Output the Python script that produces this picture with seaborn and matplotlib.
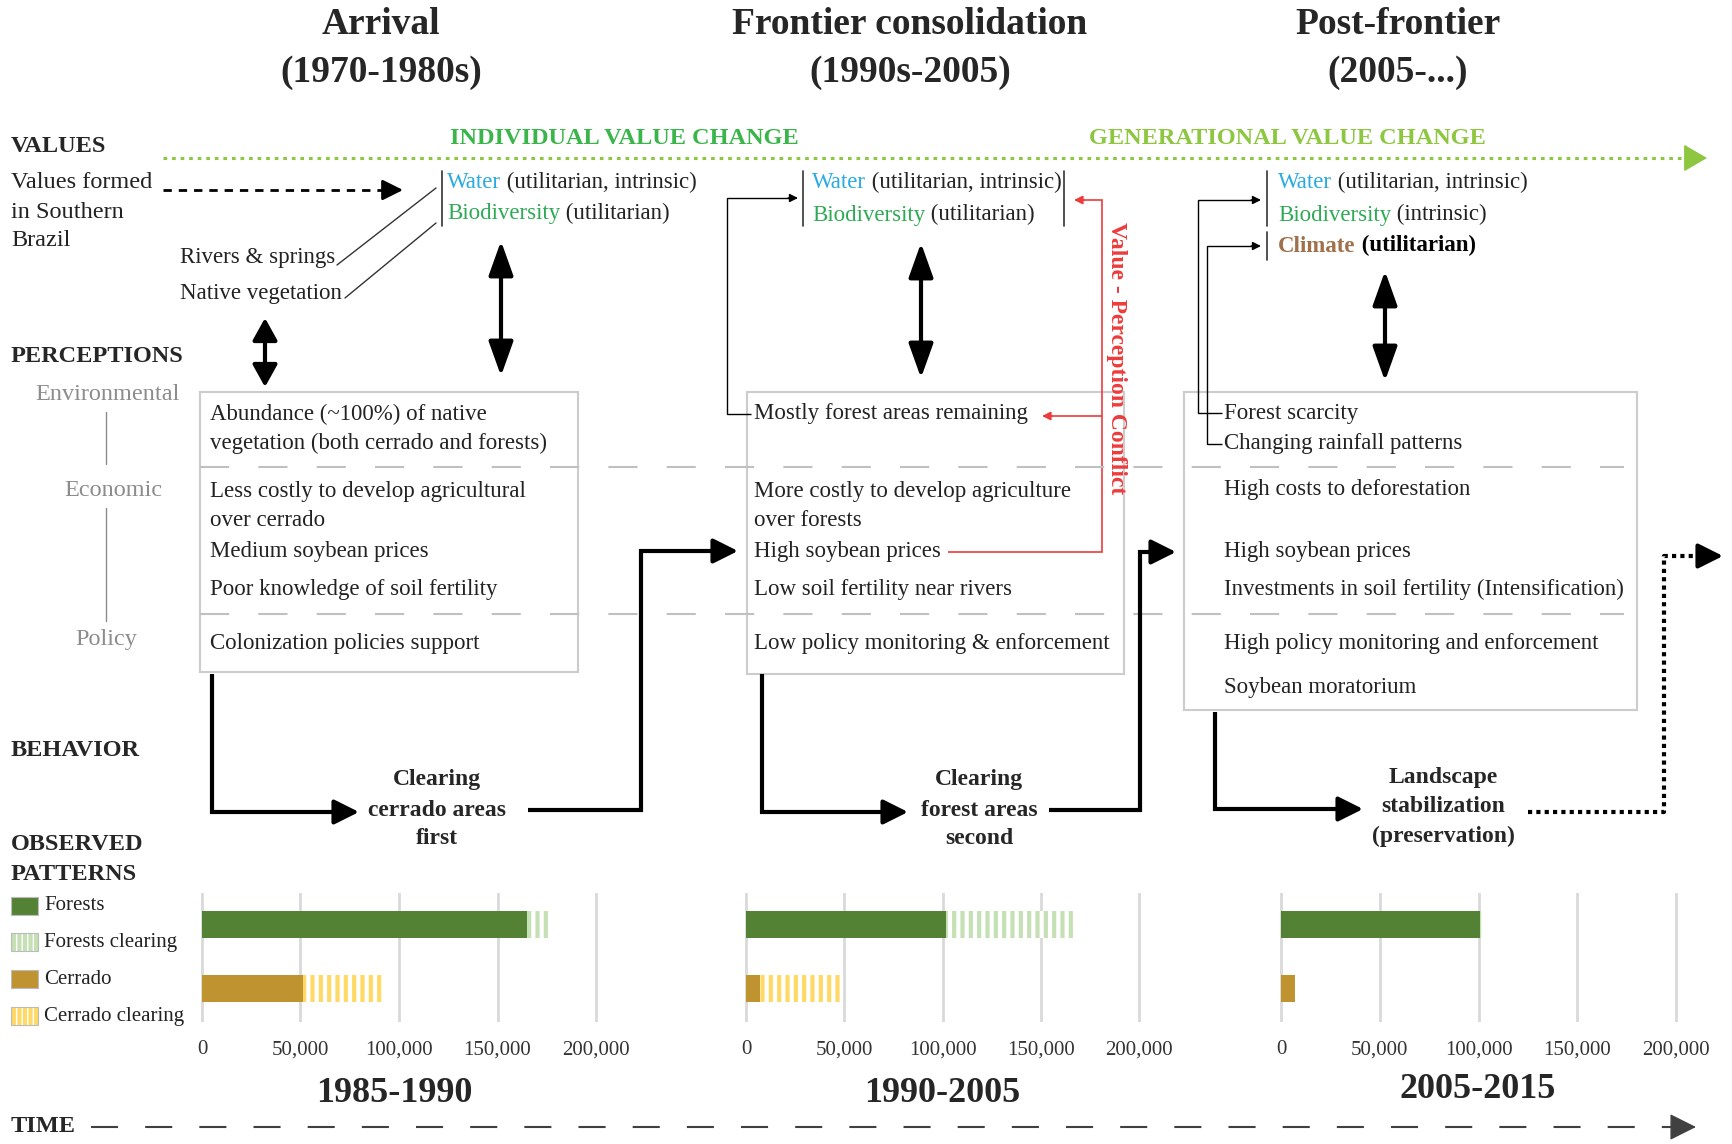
import matplotlib
matplotlib.use("Agg")
import matplotlib.pyplot as plt
import seaborn as sns
import pandas as pd
from matplotlib.patches import Rectangle

W, H = 1732, 1144

# land cover (ha)
periods = ["1985-1990", "1990-2005", "2005-2015"]
covers = ["Forests", "Cerrado"]
forest_left = [165000, 102000, 100700]
forest_cleared = [11000, 65300, 2400]
cerrado_left = [51500, 7100, 7100]
cerrado_cleared = [40500, 42400, 0]
x_ticks = [0, 50000, 100000, 150000, 200000]

phase_names = ["Arrival", "Frontier consolidation", "Post-frontier"]
phase_years = ["(1970-1980s)", "(1990s-2005)", "(2005-...)"]
behaviors = [["Clearing", "cerrado areas", "first"],
             ["Clearing", "forest areas", "second"],
             ["Landscape", "stabilization", "(preservation)"]]
box1_lines = ["Abundance (~100%) of native", "vegetation (both cerrado and forests)",
              "Less costly to develop agricultural", "over cerrado", "Medium soybean prices",
              "Poor knowledge of soil fertility", "Colonization policies support"]
box2_lines = ["Mostly forest areas remaining", "More costly to develop agriculture", "over forests",
              "High soybean prices", "Low soil fertility near rivers", "Low policy monitoring & enforcement"]
box3_lines = ["Forest scarcity", "Changing rainfall patterns", "High costs to deforestation",
              "High soybean prices", "Investments in soil fertility (Intensification)",
              "High policy monitoring and enforcement", "Soybean moratorium"]
legend_labels = ["Forests", "Forests clearing", "Cerrado", "Cerrado clearing"]

FOREST = "#548235"
FOREST_CLR = "#c5e0b4"
CERRADO = "#bf9430"
CERRADO_CLR = "#ffd966"
WATER = "#29abe2"
BIO = "#2eaa55"
CLIMATE = "#a0704a"
LIME = "#8dc63f"
RED = "#ee3b3b"
GREY = "#8c8c8c"
BODY = 16.5

sns.set_theme(style="white")
plt.rcParams["font.family"] = ["Liberation Serif", "DejaVu Serif"]
plt.rcParams["hatch.linewidth"] = 3.0

fig = plt.figure(figsize=(W / 100, H / 100), dpi=100)
ax = fig.add_axes([0, 0, 1, 1])
ax.set_xlim(0, W)
ax.set_ylim(H, 0)
ax.axis("off")


def txt(x, y, s, size=BODY, **kw):
    kw.setdefault("va", "center")
    return ax.text(x, y, s, fontsize=size, **kw)


def parts(x, y, pieces, size=BODY):
    s, c, w = pieces[0]
    t = txt(x, y, s, size, color=c, fontweight=w)
    for s, c, w in pieces[1:]:
        t = ax.annotate(s, xy=(1, 0), xycoords=t, va="bottom", ha="left",
                        color=c, fontsize=size, fontweight=w)


def elbow(pts, color="black", lw=3, ls="-", ms=30, head="-|>,head_length=0.5,head_width=0.25", back=10):
    xs = [p[0] for p in pts]
    ys = [p[1] for p in pts]
    (x1, y1), (x2, y2) = pts[-2], pts[-1]
    dx = (x2 > x1) - (x2 < x1)
    dy = (y2 > y1) - (y2 < y1)
    xs[-1] = x2 - dx * back
    ys[-1] = y2 - dy * back
    ax.plot(xs, ys, color=color, lw=lw, ls=ls, solid_capstyle="butt", solid_joinstyle="miter")
    ax.annotate("", xy=(x2, y2), xytext=(x2 - dx * (back + 6), y2 - dy * (back + 6)),
                arrowprops=dict(arrowstyle=head, mutation_scale=ms, lw=lw, color=color,
                                shrinkA=0, shrinkB=0))


def double_arrow(x, y0, y1, hl=0.7):
    ax.annotate("", xy=(x, y0), xytext=(x, y1),
                arrowprops=dict(arrowstyle=f"<|-|>,head_length={hl},head_width=0.25",
                                mutation_scale=30, lw=3, color="black", shrinkA=0, shrinkB=0))


# phase titles
for cx, name, yrs in zip([381, 910, 1398], phase_names, phase_years):
    txt(cx, 25, name, 27, ha="center", fontweight="bold")
    txt(cx, 72, yrs, 27, ha="center", fontweight="bold")

# row labels
for y, s in [(147, "VALUES"), (357, "PERCEPTIONS"), (750, "BEHAVIOR"),
             (845, "OBSERVED"), (874, "PATTERNS"), (1127, "TIME")]:
    txt(11, y, s, 17.5, fontweight="bold")

# value change arrow
ax.plot([163, 1695], [158, 158], color=LIME, lw=2.2, ls=(0, (1.2, 1.6)))
ax.annotate("", xy=(1707, 158), xytext=(1690, 158),
            arrowprops=dict(arrowstyle="-|>,head_length=0.6,head_width=0.35", mutation_scale=25,
                            color=LIME, lw=1, shrinkA=0, shrinkB=0))
txt(624, 139, "INDIVIDUAL VALUE CHANGE", 17.5, ha="center", color="#39b54a", fontweight="bold")
txt(1287, 139, "GENERATIONAL VALUE CHANGE", 17.5, ha="center", color=LIME, fontweight="bold")

# values block 1
for y, s in zip([183, 212, 241], ["Values formed", "in Southern", "Brazil"]):
    txt(11, y, s, 17.5, color="#222222")
elbow([(163, 190), (403, 190)], lw=2, ls=(0, (3, 2.5)), ms=25, back=12)
ax.plot([442, 442], [171, 226], color="#333333", lw=1.2)
parts(447, 183, [("Water", WATER, "normal"), (" (utilitarian, intrinsic)", "#222222", "normal")])
parts(447, 214, [("Biodiversity", BIO, "normal"), (" (utilitarian)", "#222222", "normal")])
txt(335, 257, "Rivers & springs", ha="right", color="#222222")
txt(342, 293, "Native vegetation", ha="right", color="#222222")
ax.plot([337, 436], [265, 188], color="#333333", lw=1)
ax.plot([345, 436], [298, 223], color="#333333", lw=1)
double_arrow(265, 318, 387, hl=0.45)
double_arrow(501, 241, 376)

# values block 2
ax.plot([803, 803], [171, 226], color="#333333", lw=1.2)
ax.plot([1064, 1064], [171, 226], color="#333333", lw=1.2)
parts(812, 183, [("Water", WATER, "normal"), (" (utilitarian, intrinsic)", "#222222", "normal")])
parts(812, 215, [("Biodiversity", BIO, "normal"), (" (utilitarian)", "#222222", "normal")])
elbow([(751, 414), (727, 414), (727, 198), (798, 198)], lw=1, ms=10, back=4)
double_arrow(921, 243, 378)

# value-perception conflict
elbow([(948, 552), (1102, 552), (1102, 200), (1074, 200)], color=RED, lw=1.2, ms=10, back=4)
elbow([(1102, 416), (1042, 416)], color=RED, lw=1.2, ms=10, back=4)
txt(1116, 358, "Value - Perception Conflict", 17, ha="center", color=RED,
    fontweight="bold", rotation=270)

# values block 3
ax.plot([1267, 1267], [171, 226], color="#333333", lw=1.2)
ax.plot([1267, 1267], [232, 260], color="#333333", lw=1.2)
parts(1278, 183, [("Water", WATER, "normal"), (" (utilitarian, intrinsic)", "#222222", "normal")])
parts(1278, 215, [("Biodiversity", BIO, "normal"), (" (intrinsic)", "#222222", "normal")])
parts(1278, 246, [("Climate", CLIMATE, "bold"), (" (utilitarian)", "black", "bold")])
elbow([(1222, 413), (1198, 413), (1198, 200), (1261, 200)], lw=1, ms=10, back=4)
elbow([(1222, 444), (1207, 444), (1207, 246), (1261, 246)], lw=1, ms=10, back=4)
double_arrow(1385, 271, 381)

# perception categories
txt(107, 394, "Environmental", 17.5, ha="center", color=GREY)
txt(113, 490, "Economic", 17.5, ha="center", color=GREY)
txt(106, 640, "Policy", 17.5, ha="center", color=GREY)
ax.plot([106, 106], [412, 464], color=GREY, lw=1)
ax.plot([106, 106], [508, 621], color=GREY, lw=1)

for x0, y0, w, h in [(200, 392, 378, 280), (747, 392, 377, 282), (1184, 392, 453, 318)]:
    ax.add_patch(Rectangle((x0, y0), w, h, fill=False, ec="#cccccc", lw=1.5))
for y in [467, 614]:
    ax.plot([200, 1624], [y, y], color="#c0c0c0", lw=1.5, ls=(0, (14, 14)))

for y, s in zip([414, 443, 492, 520, 552, 590, 644], box1_lines):
    txt(210, y, s, color="#222222")
for y, s in zip([414, 492, 520, 552, 590, 644], box2_lines):
    txt(754, y, s, color="#222222")
for y, s in zip([413, 444, 490, 551, 589, 643, 687], box3_lines):
    txt(1224, y, s, color="#222222")

# behaviour paths
elbow([(212, 674), (212, 812), (359, 812)])
elbow([(528, 810), (641, 810), (641, 551), (738, 551)])
elbow([(762, 674), (762, 812), (908, 812)])
elbow([(1049, 810), (1140, 810), (1140, 552), (1176, 552)])
elbow([(1215, 712), (1215, 809), (1363, 809)])
elbow([(1528, 812), (1664, 812), (1664, 556), (1723, 556)], ls=(0, (1, 1)))
for cx, ys, lines in zip([437, 979, 1443], [[780, 810, 838], [780, 810, 838], [778, 806, 836]], behaviors):
    for y, s in zip(ys, lines):
        txt(cx, y, s, 17, ha="center", fontweight="bold")

# legend swatches
swatches = [(FOREST, None), (FOREST_CLR, "||"), (CERRADO, None), (CERRADO_CLR, "||")]
for (col, hatch), lab, y in zip(swatches, legend_labels, [906, 942, 979, 1016]):
    if hatch:
        ax.add_patch(Rectangle((11, y - 9), 27, 18, fc="white", ec=col, hatch="|||", lw=0))
        ax.add_patch(Rectangle((11, y - 9), 27, 18, fill=False, ec="#bbbbbb", lw=0.8))
    else:
        ax.add_patch(Rectangle((11, y - 9), 27, 18, fc=col, ec="#bbbbbb", lw=0.8))
    txt(44, y, lab, 15, color="#222222")

# bar panels
panels = [(199, 599), (743, 1142), (1278, 1679)]
for i, (left, right) in enumerate(panels):
    axb = fig.add_axes([left / W, 1 - 1022 / H, (right - left) / W, (1022 - 893) / H])
    df = pd.DataFrame({"cover": covers,
                       "left": [forest_left[i], cerrado_left[i]],
                       "cleared": [forest_cleared[i], cerrado_cleared[i]]})
    df["total"] = df["left"] + df["cleared"]
    sns.barplot(data=df, x="total", y="cover", hue="cover", palette=["white", "white"],
                width=0.43, orient="h", legend=False, saturation=1, ax=axb)
    for p, col in zip(axb.patches, [FOREST_CLR, CERRADO_CLR]):
        p.set_hatch("||")
        p.set_edgecolor(col)
        p.set_linewidth(0)
    n = len(axb.patches)
    sns.barplot(data=df, x="left", y="cover", hue="cover", palette=[FOREST, CERRADO],
                width=0.43, orient="h", legend=False, saturation=1, ax=axb)
    for p in axb.patches[n:]:
        p.set_linewidth(0)
    axb.set_xlim(-1500, 201500)
    axb.set_ylim(1.53, -0.5)
    axb.set_xticks(x_ticks)
    axb.set_xticklabels([f"{v:,}" for v in x_ticks])
    axb.set_yticks([])
    axb.set_xlabel("")
    axb.set_ylabel("")
    axb.grid(axis="x", color="#d9d9d9", lw=2)
    axb.set_axisbelow(True)
    axb.tick_params(axis="x", length=0, pad=13, labelsize=15, labelcolor="#333333")
    axb.patch.set_alpha(0)
    sns.despine(ax=axb, left=True, bottom=True)

for cx, y, s in zip([394, 942, 1478], [1094, 1094, 1090], periods):
    txt(cx, y, s, 26, ha="center", fontweight="bold")

# time axis
ax.plot([91, 1684], [1127, 1127], color="#404040", lw=1.5, ls=(0, (13, 13)))
ax.annotate("", xy=(1696, 1127), xytext=(1678, 1127),
            arrowprops=dict(arrowstyle="-|>,head_length=0.6,head_width=0.3", mutation_scale=28,
                            color="#404040", lw=1, shrinkA=0, shrinkB=0))

fig.savefig("out.png", dpi=100)
